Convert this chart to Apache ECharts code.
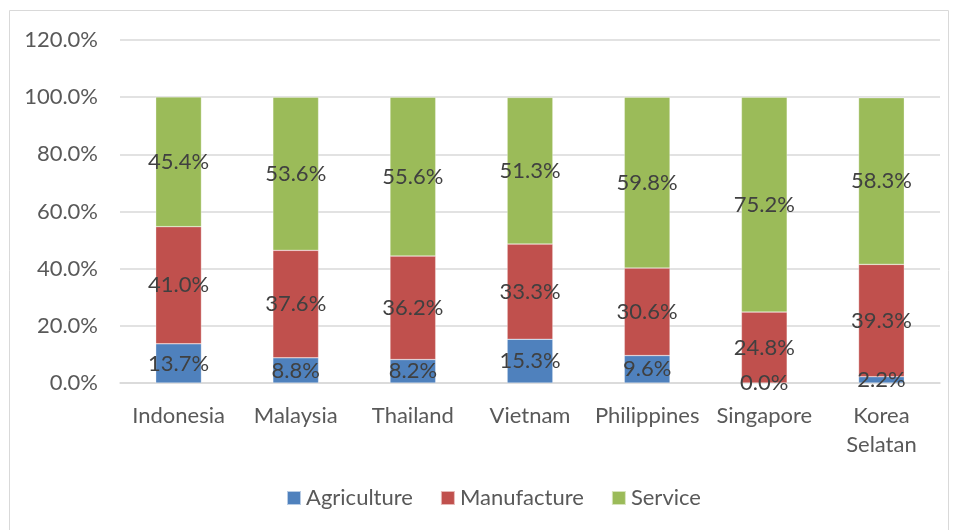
<!DOCTYPE html>
<html><head><meta charset="utf-8">
<script src="https://cdn.jsdelivr.net/npm/echarts@6/dist/echarts.min.js"></script>
<style>html,body{margin:0;padding:0;background:#fff}#c{width:958px;height:530px}</style>
</head><body><div id="c"></div>
<script>
const categories = ['Indonesia','Malaysia','Thailand','Vietnam','Philippines','Singapore','Korea Selatan'];
const agriculture = [13.7, 8.8, 8.2, 15.3, 9.6, 0.0, 2.2];
const manufacture = [41.0, 37.6, 36.2, 33.3, 30.6, 24.8, 39.3];
const service = [45.4, 53.6, 55.6, 51.3, 59.8, 75.2, 58.3];
const yTicks = [0, 20, 40, 60, 80, 100, 120];

const FONT = 'Lato';
const chart = echarts.init(document.getElementById('c'), null, {renderer:'canvas'});
const lbl = {show:true, position:'inside', color:'#404040', fontFamily:FONT, fontSize:22,
  formatter: p => p.value.toFixed(1) + '%'};
function ser(name, data, color){
  return {name, type:'bar', stack:'t', data, barWidth:'39%',
    itemStyle:{color, borderColor:'rgba(255,255,255,0.6)', borderWidth:0.5},
    label:lbl, emphasis:{disabled:true}};
}
chart.setOption({
  animation:false,
  textStyle:{fontFamily:FONT},
  graphic:[{type:'rect', shape:{x:9.5,y:10.5,width:939,height:530}, style:{fill:'none', stroke:'#d9d9d9', lineWidth:1}, silent:true}],
  grid:{left:120, right:18, top:40, bottom:147},
  legend:{top:482, left:281, itemWidth:14, itemHeight:14, itemGap:27, icon:'rect',
    textStyle:{color:'#595959', fontFamily:FONT, fontSize:22},
    data:['Agriculture','Manufacture','Service']},
  xAxis:{type:'category', data:categories,
    axisLine:{lineStyle:{color:'#d9d9d9', width:1.5}}, axisTick:{show:false},
    axisLabel:{color:'#595959', fontFamily:FONT, fontSize:22, margin:18, lineHeight:29, interval:0,
      formatter: v => v.replace(' ', '\n')}},
  yAxis:{type:'value', min:yTicks[0], max:yTicks[yTicks.length-1], interval:20,
    splitLine:{lineStyle:{color:'#d9d9d9', width:1.5}},
    axisLine:{show:false}, axisTick:{show:false},
    axisLabel:{color:'#595959', fontFamily:FONT, fontSize:22, margin:22, formatter: v => v.toFixed(1) + '%'}},
  series:[ser('Agriculture', agriculture, '#4f81bd'), ser('Manufacture', manufacture, '#c0504d'), ser('Service', service, '#9bbb59')]
});
</script></body></html>
